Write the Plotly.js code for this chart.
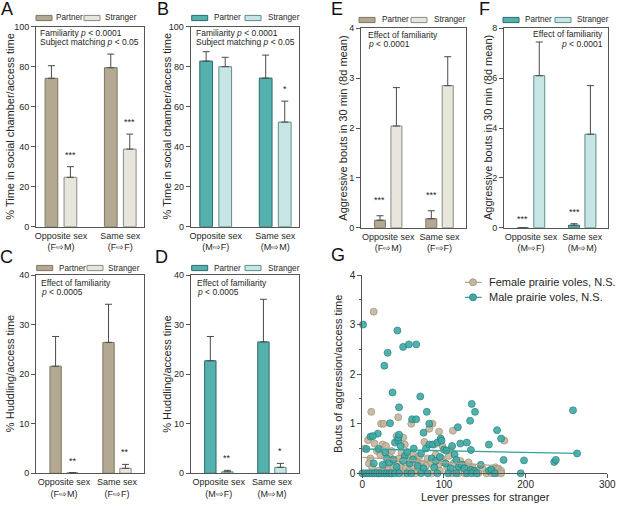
<!DOCTYPE html>
<html><head><meta charset="utf-8">
<script src="https://cdn.plot.ly/plotly-3.0.1.min.js"></script>
<style>html,body{margin:0;padding:0;background:#fff}#chart{width:617px;height:507px}</style>
</head><body><div id="chart"></div>
<script>
// ---------------- data ----------------
const catsF = ['Opposite sex<br>(F⇨M)', 'Same sex<br>(F⇨F)'];
const catsM = ['Opposite sex<br>(M⇨F)', 'Same sex<br>(M⇨M)'];
const seriesNames = ['Partner', 'Stranger'];

// A: % time in social chamber, females
const A_partner = [74.2, 79.5], A_partnerSem = [6.3, 6.8];
const A_stranger = [24.7, 38.8], A_strangerSem = [5.3, 7.5];
// B: % time in social chamber, males
const B_partner = [82.8, 74.3], B_partnerSem = [4.7, 11.5];
const B_stranger = [80.0, 52.3], B_strangerSem = [4.7, 10.5];
// C: % huddling, females
const C_partner = [21.6, 26.4], C_partnerSem = [6.0, 7.7];
const C_stranger = [0.1, 1.0], C_strangerSem = [0.05, 0.8];
// D: % huddling, males
const D_partner = [22.7, 26.5], D_partnerSem = [4.9, 8.6];
const D_stranger = [0.3, 1.2], D_strangerSem = [0.3, 0.8];
// E: aggressive bouts, females
const E_partner = [0.15, 0.18], E_partnerSem = [0.09, 0.16];
const E_stranger = [2.04, 2.85], E_strangerSem = [0.77, 0.58];
// F: aggressive bouts, males
const F_partner = [0, 0.1], F_partnerSem = [0, 0.06];
const F_stranger = [6.1, 3.75], F_strangerSem = [1.35, 1.95];

// significance labels
const A_sigP = ['', ''], A_sigS = ['***', '***'];
const B_sigP = ['', ''], B_sigS = ['', '*'];
const C_sigP = ['', ''], C_sigS = ['**', '**'];
const D_sigP = ['', ''], D_sigS = ['**', '*'];
const E_sigP = ['***', '***'], E_sigS = ['', ''];
const F_sigP = ['***', '***'], F_sigS = ['', ''];

// G: scatter, lever presses vs aggression bouts
const femaleX = [14,11,23,26,44,60,86,82,94,111,174,7,15,42,50,76,88,98,108,3,10,18,22,25,29,33,36,39,45,48,52,55,58,62,65,68,70,73,80,84,90,93,97,100,104,106,112,116,120,124,128,130,135,140,147,163,167,170,160,8,12,20,28,32,38,43,47,53,57,63,67,75,78,85,95,110,118,125,142,152,158,165,170,65,50,35,20];
const femaleY = [3.26,1.24,1.0,1.0,1.13,1.0,1.0,0.9,0.84,0.86,0.66,0.67,0.6,0.75,0.72,0.63,0.58,0.55,0.48,0.5,0.3,0.45,0.38,0.58,0.55,0.38,0.45,0.25,0.3,0.42,0.58,0.35,0.25,0.4,0.3,0.22,0.35,0.2,0.3,0.2,0.38,0.15,0.3,0.22,0.12,0.35,0.2,0.08,0.25,0.18,0.1,0.22,0.12,0.05,0.1,0.12,0.08,0.05,0.05,0.2,0.12,0.05,0.15,0.08,0.12,0.05,0.15,0.1,0.05,0.1,0.05,0.08,0.15,0,0.05,0,0,0,0,0,0,0,0,0,0,0,0];
const maleX = [1,43,31,50,57,66,27,37,71,45,79,134,138,34,61,66,82,75,132,117,165,170,258,263,10,19,13,5,20,28,40,44,44,45,47,52,55,63,72,78,82,86,92,96,97,100,103,110,113,120,128,133,155,173,198,235,237,14,25,30,33,38,42,50,58,62,68,75,85,88,90,95,102,108,115,118,122,125,133,137,145,155,158,0,3,6,9,12,15,18,21,24,27,30,33,36,40,45,55,60,72,80,92,105,115,128,134,140,162,194,252];
const maleY = [3.0,2.88,2.43,2.55,2.6,2.6,2.17,1.63,1.55,1.33,1.24,1.40,1.24,1.01,1.09,1.09,1.0,0.82,1.06,0.93,0.87,0.70,1.27,0.40,0.74,0.80,0.75,0.49,0.49,0.42,0.62,0.66,0.72,0.78,0.55,0.35,0.43,0.5,0.4,0.5,0.58,0.58,0.62,0.7,0.66,0.48,0.46,0.55,0.38,0.6,0.62,0.47,0.58,0.27,0.26,0.23,0.27,0.2,0.17,0.3,0.22,0.28,0.13,0.25,0.2,0.28,0.15,0.1,0.3,0.12,0.25,0.33,0.2,0.1,0.27,0.13,0.17,0.1,0.07,0.05,0.17,0.05,0.08,0,0,0,0,0,0,0,0,0,0,0,0,0,0,0,0,0,0,0,0,0,0,0,0,0,0,0];
const femaleFitX = [0, 170], femaleFitY = [0.32, 0.15];
const maleFitX = [0, 263], maleFitY = [0.49, 0.40];
const legendG = ['Female prairie voles, N.S.', 'Male prairie voles, N.S.'];

// ---------------- styling / layout helpers ----------------
const W = 617, H = 507;
const px = v => v / W, py = v => 1 - v / H;
const FONT = "Arial, 'Liberation Sans', Helvetica, sans-serif";
const TXT = '#262626', AX = '#555';
const tan = {fill: '#b3a993', line: '#7f7662'}, tanL = {fill: '#e7e5dc', line: '#8a8a84'};
const teal = {fill: '#55b1ae', line: '#2b6b69'}, tealL = {fill: '#c6e5e4', line: '#5c8d8b'};

const panels = [
  {letter: 'A', lp: [6.5, 9], L: 36, R: 144, T: 26.7, B: 226.7, yr: [0, 100], dt: 20, xr: [-0.42, 1.40], cats: catsF,
   p: A_partner, ps: A_partnerSem, s: A_stranger, ss: A_strangerSem, sigP: A_sigP, sigS: A_sigS, pc: tan, sc: tanL,
   yt: '% Time in social chamber/access time', ytx: 10,
   leg: {sw1: 36, t1: 54, sw2: 84, t2: 103, y: 18}, starShift: 12,
   notes: [{t: 'Familiarity <i>p</i> < 0.0001', x: 38.3, y: 33, a: 'left'}, {t: 'Subject matching <i>p</i> < 0.05', x: 38.3, y: 41.8, a: 'left'}]},
  {letter: 'B', lp: [162.5, 9], L: 190.7, R: 299, T: 26.7, B: 226.7, yr: [0, 100], dt: 20, xr: [-0.42, 1.40], cats: catsM,
   p: B_partner, ps: B_partnerSem, s: B_stranger, ss: B_strangerSem, sigP: B_sigP, sigS: B_sigS, pc: teal, sc: tealL,
   yt: '% Time in social chamber/access time', ytx: 166.7,
   leg: {sw1: 191.7, t1: 212, sw2: 245, t2: 265.5, y: 18}, starShift: 12,
   notes: [{t: 'Familiarity <i>p</i> < 0.0001', x: 194, y: 33, a: 'left'}, {t: 'Subject matching <i>p</i> < 0.05', x: 194, y: 41.8, a: 'left'}]},
  {letter: 'C', lp: [6.5, 256.5], L: 36, R: 144, T: 275, B: 473.3, yr: [0, 40], dt: 10, xr: [-0.53, 1.51], cats: catsF,
   p: C_partner, ps: C_partnerSem, s: C_stranger, ss: C_strangerSem, sigP: C_sigP, sigS: C_sigS, pc: tan, sc: tanL,
   yt: '% Huddling/access time', ytx: 10,
   leg: {sw1: 36.7, t1: 57, sw2: 87, t2: 106, y: 268}, starShift: 12,
   notes: [{t: 'Effect of familiarity', x: 39.3, y: 282.7, a: 'left'}, {t: '<i>p</i> < 0.0005', x: 39.3, y: 292.3, a: 'left'}]},
  {letter: 'D', lp: [161.5, 256.5], L: 190.7, R: 299, T: 275, B: 473.3, yr: [0, 40], dt: 10, xr: [-0.53, 1.51], cats: catsM,
   p: D_partner, ps: D_partnerSem, s: D_stranger, ss: D_strangerSem, sigP: D_sigP, sigS: D_sigS, pc: teal, sc: tealL,
   yt: '% Huddling/access time', ytx: 166.7,
   leg: {sw1: 191.7, t1: 212, sw2: 245, t2: 265.5, y: 268}, starShift: 12,
   notes: [{t: 'Effect of familiarity', x: 194.5, y: 282.7, a: 'left'}, {t: '<i>p</i> < 0.0005', x: 194.5, y: 292.3, a: 'left'}]},
  {letter: 'E', lp: [337.3, 9.5], L: 361, R: 465.7, T: 28.3, B: 227.7, yr: [0, 4], dt: 1, xr: [-0.53, 1.51], cats: catsF,
   p: E_partner, ps: E_partnerSem, s: E_stranger, ss: E_strangerSem, sigP: E_sigP, sigS: E_sigS, pc: tan, sc: tanL,
   yt: 'Aggressive bouts in 30 min (8d mean)', ytx: 342.7,
   leg: {sw1: 359, t1: 379.5, sw2: 411, t2: 431.5, y: 20}, starShift: 15.5,
   notes: [{t: 'Effect of familiarity', x: 366, y: 35, a: 'left'}, {t: '<i>p</i> < 0.0001', x: 366, y: 44.3, a: 'left'}]},
  {letter: 'F', lp: [484, 9.5], L: 504, R: 608.3, T: 28.3, B: 227.7, yr: [0, 8], dt: 2, xr: [-0.53, 1.51], cats: catsM,
   p: F_partner, ps: F_partnerSem, s: F_stranger, ss: F_strangerSem, sigP: F_sigP, sigS: F_sigS, pc: teal, sc: tealL,
   yt: 'Aggressive bouts in 30 min (8d mean)', ytx: 488,
   leg: {sw1: 503, t1: 522.5, sw2: 555, t2: 574.5, y: 20}, starShift: 12,
   notes: [{t: 'Effect of familiarity', x: 605, y: 34, a: 'right'}, {t: '<i>p</i> < 0.0001', x: 605, y: 43.7, a: 'right'}]}
];

const data = [];
const layout = {
  width: W, height: H, margin: {l: 0, r: 0, t: 0, b: 0},
  paper_bgcolor: '#fff', plot_bgcolor: 'rgba(0,0,0,0)',
  showlegend: false, barmode: 'group', bargap: 0.36, bargroupgap: 0.33,
  font: {family: FONT, color: TXT, size: 9},
  annotations: [], shapes: []
};
const ann = a => layout.annotations.push(Object.assign({showarrow: false, font: {family: FONT, size: 9, color: TXT}}, a));

panels.forEach((P, i) => {
  const n = i + 1, xa = 'x' + n, ya = 'y' + n;
  const mk = (vals, sem, c, name) => ({
    type: 'bar', name: name, x: P.cats, y: vals, xaxis: xa, yaxis: ya,
    marker: {color: c.fill, line: {color: c.line, width: 1}},
    error_y: {type: 'data', symmetric: false, array: sem, arrayminus: sem.map(() => 0), color: '#4a4a4a', thickness: 1, width: 3.5},
    hoverinfo: 'y'
  });
  data.push(mk(P.p, P.ps, P.pc, seriesNames[0]));
  data.push(mk(P.s, P.ss, P.sc, seriesNames[1]));

  layout['xaxis' + n] = {
    domain: [px(P.L), px(P.R)], anchor: ya, type: 'category', range: P.xr,
    showline: true, mirror: true, linecolor: AX, linewidth: 1, ticks: '', showgrid: false, zeroline: false,
    tickfont: {family: FONT, size: 9, color: TXT}, fixedrange: true
  };
  layout['yaxis' + n] = {
    domain: [py(P.B), py(P.T)], anchor: xa, range: P.yr, dtick: P.dt, tick0: 0,
    showline: true, mirror: true, linecolor: AX, linewidth: 1, ticks: 'outside', ticklen: 4, tickcolor: AX,
    showgrid: false, zeroline: false, tickfont: {family: FONT, size: 9, color: TXT}, fixedrange: true
  };

  ann({text: P.letter, xref: 'paper', yref: 'paper', x: px(P.lp[0]), y: py(P.lp[1]), xanchor: 'center', yanchor: 'middle',
       font: {family: FONT, size: 18, color: '#111'}});
  ann({text: P.yt, xref: 'paper', yref: 'paper', x: px(P.ytx), y: py((P.T + P.B) / 2), textangle: -90,
       xanchor: 'center', yanchor: 'middle', font: {family: FONT, size: 11, color: TXT}});
  P.notes.forEach(o => ann({text: o.t, xref: 'paper', yref: 'paper', x: px(o.x), y: py(o.y), xanchor: o.a, yanchor: 'middle',
       font: {family: FONT, size: 8.5, color: TXT}}));
  const L = P.leg, sh = 2.6;
  [[L.sw1, P.pc, L.t1, seriesNames[0]], [L.sw2, P.sc, L.t2, seriesNames[1]]].forEach(([sx, c, tx, name]) => {
    layout.shapes.push({type: 'rect', xref: 'paper', yref: 'paper', x0: px(sx), x1: px(sx + 16), y0: py(L.y + sh), y1: py(L.y - sh),
       fillcolor: c.fill, line: {color: c.line, width: 1}});
    ann({text: name, xref: 'paper', yref: 'paper', x: px(tx), y: py(L.y), xanchor: 'left', yanchor: 'middle',
       font: {family: FONT, size: 8.2, color: TXT}});
  });
  const off = (1 - layout.bargap) / 4;
  [[P.sigP, P.p, P.ps, -off], [P.sigS, P.s, P.ss, off]].forEach(([sig, v, se, o]) => {
    sig.forEach((t, k) => {
      if (!t) return;
      let ys = P.starShift;
      if (v[k] + se[k] === 0) ys = 9;
      ann({text: t, xref: xa, yref: ya, x: k + o, y: v[k] + se[k], yshift: ys, xanchor: 'center', yanchor: 'middle',
           font: {family: FONT, size: 9, color: TXT}});
    });
  });
});

// ---------------- panel G ----------------
const femC = {fill: '#c4b69c', line: '#9c8f76'}, malC = {fill: '#3ea9a5', line: '#237f7c'};
data.push({type: 'scatter', mode: 'markers', name: legendG[0], x: femaleX, y: femaleY, xaxis: 'x7', yaxis: 'y7', cliponaxis: false,
  marker: {size: 7, color: femC.fill, line: {color: femC.line, width: 0.8}, opacity: 0.9}});
data.push({type: 'scatter', mode: 'markers', name: legendG[1], x: maleX, y: maleY, xaxis: 'x7', yaxis: 'y7', cliponaxis: false,
  marker: {size: 7, color: malC.fill, line: {color: malC.line, width: 0.8}, opacity: 0.9}});
data.push({type: 'scatter', mode: 'lines', x: femaleFitX, y: femaleFitY, xaxis: 'x7', yaxis: 'y7', line: {color: '#b0a287', width: 1.3}, hoverinfo: 'skip'});
data.push({type: 'scatter', mode: 'lines', x: maleFitX, y: maleFitY, xaxis: 'x7', yaxis: 'y7', line: {color: '#36a19d', width: 1.3}, hoverinfo: 'skip'});

layout.xaxis7 = {domain: [px(362.3), px(607.3)], anchor: 'y7', range: [0, 300], dtick: 100, tick0: 0,
  showline: true, linecolor: AX, linewidth: 1, ticks: 'outside', ticklen: 4, tickcolor: AX, showgrid: false, zeroline: false,
  ticklabelstandoff: -2,
  tickfont: {family: FONT, size: 10, color: TXT}, fixedrange: true};
layout.yaxis7 = {domain: [py(473.3), py(275)], anchor: 'x7', range: [0, 4], dtick: 1, tick0: 0,
  showline: true, linecolor: AX, linewidth: 1, ticks: 'outside', ticklen: 4, tickcolor: AX, showgrid: false, zeroline: false,
  minor: {dtick: 0.5, ticks: 'outside', ticklen: 2.5, tickcolor: AX, showgrid: false},
  tickfont: {family: FONT, size: 10, color: TXT}, fixedrange: true};
ann({text: 'G', xref: 'paper', yref: 'paper', x: px(338.3), y: py(255), xanchor: 'center', yanchor: 'middle', font: {family: FONT, size: 18, color: '#111'}});
ann({text: 'Lever presses for stranger', xref: 'paper', yref: 'paper', x: px(485), y: py(497), xanchor: 'center', yanchor: 'middle', font: {family: FONT, size: 11, color: TXT}});
ann({text: 'Bouts of aggression/access time', xref: 'paper', yref: 'paper', x: px(338), y: py(374), textangle: -90, xanchor: 'center', yanchor: 'middle', font: {family: FONT, size: 11, color: TXT}});
[[282.3, femC, legendG[0]], [297.3, malC, legendG[1]]].forEach(([yy, c, t]) => {
  layout.shapes.push({type: 'line', xref: 'paper', yref: 'paper', x0: px(465), x1: px(481.7), y0: py(yy), y1: py(yy), line: {color: c.line, width: 1}});
  layout.shapes.push({type: 'circle', xref: 'paper', yref: 'paper', x0: px(469.5), x1: px(476.5), y0: py(yy + 3.5), y1: py(yy - 3.5),
    fillcolor: c.fill, line: {color: c.line, width: 0.8}});
  ann({text: t, xref: 'paper', yref: 'paper', x: px(486.7), y: py(yy), xanchor: 'left', yanchor: 'middle', font: {family: FONT, size: 11, color: TXT}});
});

Plotly.newPlot('chart', data, layout, {displayModeBar: false, staticPlot: true});
</script></body></html>
